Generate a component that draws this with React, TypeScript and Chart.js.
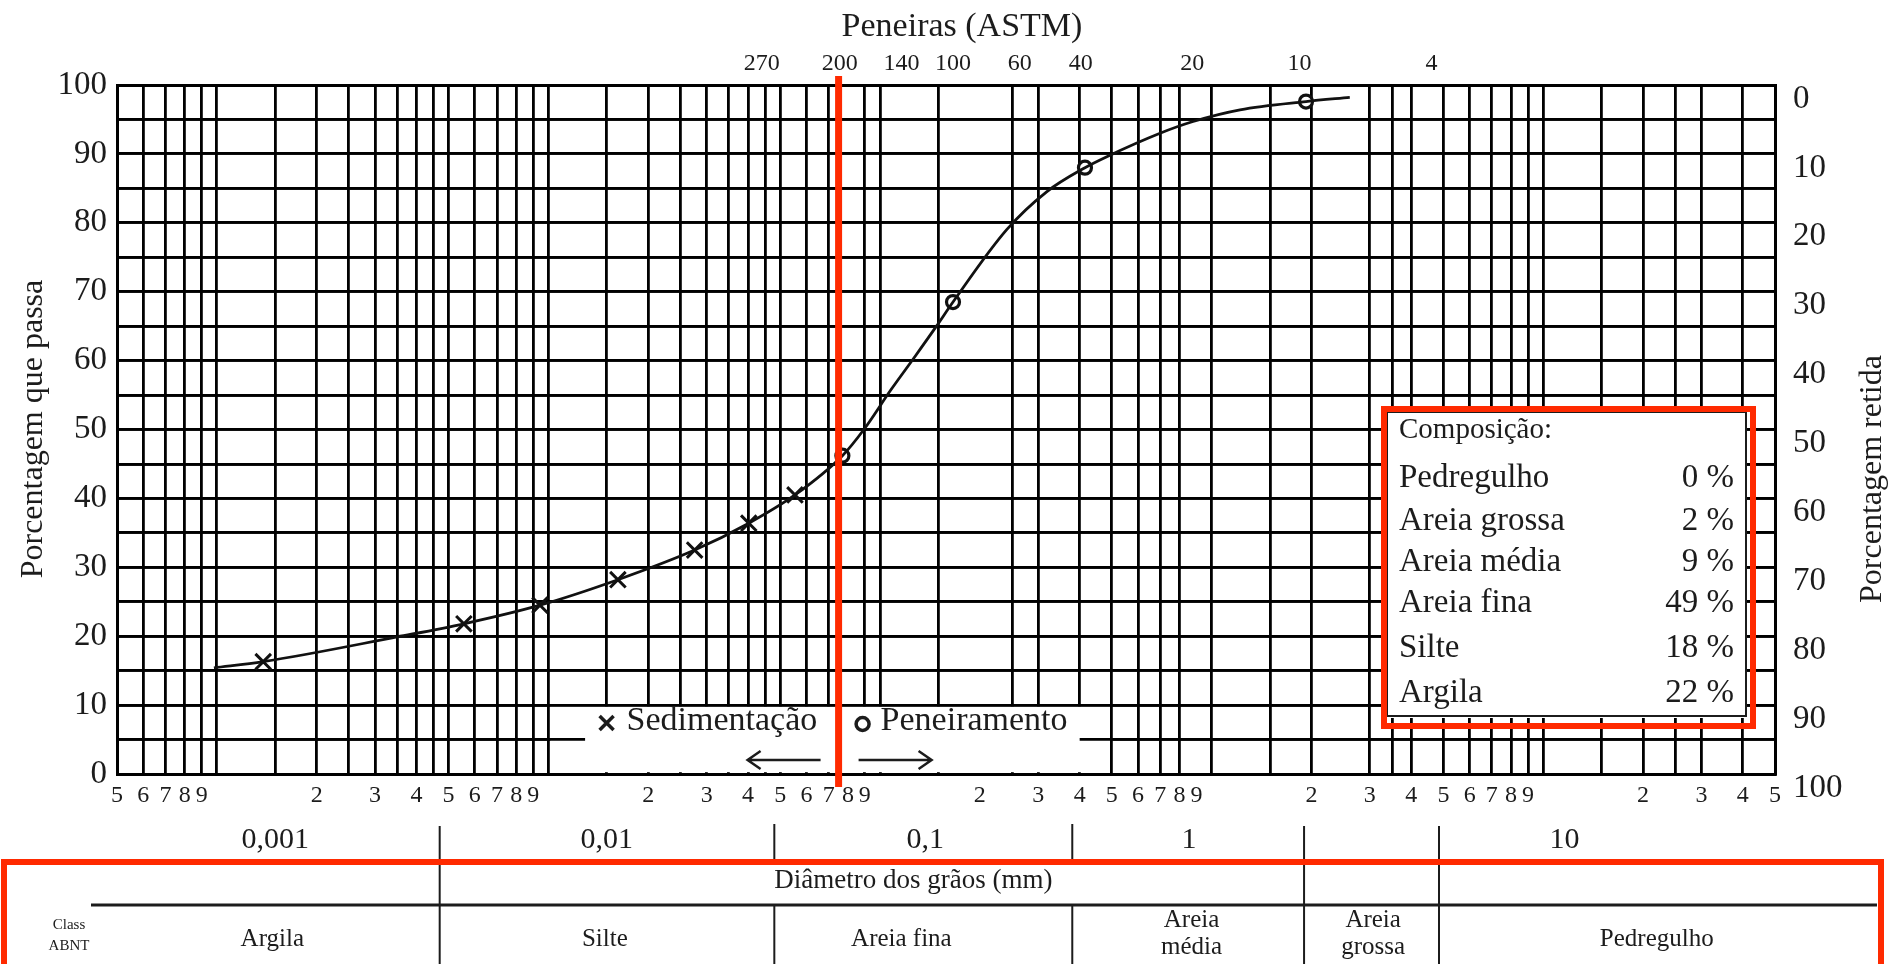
import React, { useEffect, useRef } from "react";
import { Chart, registerables } from "chart.js";

Chart.register(...registerables);

// ---------- data ----------
// grain size curve (mm, % passing)
const curveDiam = [0.00098, 0.00138, 0.0035, 0.00556, 0.00943, 0.0162, 0.0276, 0.0402, 0.0554, 0.077, 0.0894, 0.108, 0.1275, 0.148, 0.166, 0.241, 0.318, 0.415, 0.483, 0.699, 0.879, 1.218, 1.926, 2.61];
const curvePass = [15.4, 16.3, 19.9, 21.8, 24.5, 28.2, 32.5, 36.4, 40.5, 46.2, 50.0, 55.8, 60.6, 65.0, 68.5, 79.0, 84.5, 88.0, 89.6, 93.0, 94.7, 96.4, 97.6, 98.2];
// sedimentation points (x markers)
const sedDiam = [0.00138, 0.00556, 0.00943, 0.0162, 0.0276, 0.0402, 0.0554];
const sedPass = [16.3, 21.8, 24.5, 28.2, 32.5, 36.4, 40.5];
// sieving points (o markers)
const penDiam = [0.077, 0.166, 0.415, 1.926];
const penPass = [46.2, 68.5, 88.0, 97.6];

// bottom log axis ticks
const xTickValues = [
  0.0005, 0.0006, 0.0007, 0.0008, 0.0009,
  0.001, 0.0015, 0.002, 0.0025, 0.003, 0.0035, 0.004, 0.0045, 0.005, 0.006, 0.007, 0.008, 0.009,
  0.01, 0.015, 0.02, 0.025, 0.03, 0.035, 0.04, 0.045, 0.05, 0.06, 0.07, 0.08, 0.09,
  0.1, 0.15, 0.2, 0.25, 0.3, 0.35, 0.4, 0.45, 0.5, 0.6, 0.7, 0.8, 0.9,
  1, 1.5, 2, 2.5, 3, 3.5, 4, 4.5, 5, 6, 7, 8, 9,
  10, 15, 20, 25, 30, 35, 40, 45, 50,
];
const xTickLabels = [
  "5", "6", "7", "8", "9",
  "", "", "2", "", "3", "", "4", "", "5", "6", "7", "8", "9",
  "", "", "2", "", "3", "", "4", "", "5", "6", "7", "8", "9",
  "", "", "2", "", "3", "", "4", "", "5", "6", "7", "8", "9",
  "", "", "2", "", "3", "", "4", "", "5", "6", "7", "8", "9",
  "", "", "2", "", "3", "", "4", "", "5",
];
const xNoGrid = [0.08, 0.2, 0.35, 0.45, 0.9, 2.5, 4.5, 35, 45];

// top axis: ASTM sieves
const sieveNames = ["270", "200", "140", "100", "60", "40", "20", "10", "4"];
const sieveDiam = [0.044, 0.0756, 0.116, 0.166, 0.264, 0.403, 0.874, 1.84, 4.6];

// decade labels under the axis
const decadeNames = ["0,001", "0,01", "0,1", "1", "10"];
const decadePos = [0.0015, 0.015, 0.137, 0.855, 11.6];

// ABNT class boundaries and table
const boundDiam = [0.0047, 0.048, 0.38, 1.9, 4.85];
const boundInRow1 = [true, false, false, true, true];
const classNames = [["Argila"], ["Silte"], ["Areia fina"], ["Areia", "média"], ["Areia", "grossa"], ["Pedregulho"]];
const classPos = [0.00147, 0.0148, 0.116, 0.87, 3.07, 22];

// composition box
const compNames = ["Pedregulho", "Areia grossa", "Areia média", "Areia fina", "Silte", "Argila"];
const compValues = [0, 2, 9, 49, 18, 22];

const SERIF = "'Liberation Serif', 'Times New Roman', serif";
const INK = "#1c1c1c";
const GRID = "#000000";
const GRID_W = 2.8;
const RED = "#ff2a00";

const near = (a: number, b: number) => Math.abs(a - b) / b < 1e-6;
const hiddenGrid = new Set<number>(
  xTickValues.map((v, i) => (xNoGrid.some((n) => near(v, n)) ? i : -1)).filter((i) => i >= 0)
);
const align = (p: number) => Math.round(p - GRID_W / 2) + GRID_W / 2;

const overlay = {
  id: "overlay",
  beforeDatasetsDraw(chart: any) {
    const { ctx, chartArea } = chart;
    const xs = chart.scales.x;
    const ys = chart.scales.y;
    ctx.save();
    // horizontal grid lines at the y scale's own ticks
    ctx.strokeStyle = GRID;
    ctx.lineWidth = GRID_W;
    ctx.beginPath();
    ys.ticks.forEach((t: any) => {
      const py = align(ys.getPixelForValue(t.value));
      ctx.moveTo(chartArea.left, py);
      ctx.lineTo(chartArea.right, py);
    });
    ctx.stroke();
    // legend cut-out
    const x0 = xs.getPixelForValue(0.01);
    const x1 = xs.getPixelForValue(0.5);
    const yt = ys.getPixelForValue(10);
    const yb = ys.getPixelForValue(0);
    ctx.fillStyle = "#ffffff";
    ctx.fillRect(x0 + 1.8, yt + 1.8, x1 - x0 - 3.6, yb - yt - 3.6);
    const y5 = align(ys.getPixelForValue(5));
    ctx.beginPath();
    ctx.moveTo(x0, y5);
    ctx.lineTo(xs.getPixelForValue(0.0129), y5);
    ctx.moveTo(xs.getPixelForValue(0.4), y5);
    ctx.lineTo(x1, y5);
    ctx.stroke();
    ctx.restore();
  },
  afterDraw(chart: any) {
    const { ctx, chartArea } = chart;
    const xs = chart.scales.x;
    const X = (v: number) => xs.getPixelForValue(v);
    ctx.save();
    ctx.fillStyle = INK;
    ctx.strokeStyle = INK;
    ctx.textBaseline = "middle";
    ctx.textAlign = "center";

    // axis titles
    ctx.font = `34px ${SERIF}`;
    ctx.fillText("Peneiras (ASTM)", (chartArea.left + chartArea.right) / 2 + 16, 27);
    ctx.font = `32px ${SERIF}`;
    ctx.save();
    ctx.translate(34, 429);
    ctx.rotate(-Math.PI / 2);
    ctx.fillText("Porcentagem que passa", 0, 0);
    ctx.restore();
    ctx.save();
    ctx.translate(1873, 479);
    ctx.rotate(-Math.PI / 2);
    ctx.fillText("Porcentagem retida", 0, 0);
    ctx.restore();

    // legend inside the plot
    const xr = X(0.075);
    const ly = 723;
    ctx.lineWidth = 3.5;
    ctx.beginPath();
    ctx.moveTo(xr - 239, ly - 7);
    ctx.lineTo(xr - 225, ly + 7);
    ctx.moveTo(xr - 225, ly - 7);
    ctx.lineTo(xr - 239, ly + 7);
    ctx.stroke();
    ctx.beginPath();
    ctx.arc(xr + 24, ly + 1, 6.5, 0, Math.PI * 2);
    ctx.stroke();
    ctx.font = `34px ${SERIF}`;
    ctx.textAlign = "left";
    ctx.fillText("Sedimentação", xr - 212, ly - 2);
    ctx.fillText("Peneiramento", xr + 42, ly - 2);
    // arrows
    const ay = 760;
    ctx.lineWidth = 2.5;
    ctx.beginPath();
    ctx.moveTo(xr - 18, ay);
    ctx.lineTo(xr - 91, ay);
    ctx.moveTo(xr - 78, ay - 9);
    ctx.lineTo(xr - 91, ay);
    ctx.lineTo(xr - 78, ay + 9);
    ctx.moveTo(xr + 20, ay);
    ctx.lineTo(xr + 93, ay);
    ctx.moveTo(xr + 80, ay - 9);
    ctx.lineTo(xr + 93, ay);
    ctx.lineTo(xr + 80, ay + 9);
    ctx.stroke();

    // red line at sieve #200
    ctx.strokeStyle = RED;
    ctx.lineWidth = 7;
    ctx.beginPath();
    ctx.moveTo(xr, 76);
    ctx.lineTo(xr, 787);
    ctx.stroke();

    // composition box
    ctx.fillStyle = "#ffffff";
    ctx.fillRect(1387, 412, 360, 306);
    ctx.strokeStyle = INK;
    ctx.lineWidth = 2;
    ctx.strokeRect(1387, 412, 359, 304);
    ctx.strokeStyle = RED;
    ctx.lineWidth = 6;
    ctx.strokeRect(1384, 409, 369, 317);
    ctx.fillStyle = INK;
    ctx.textAlign = "left";
    ctx.font = `29px ${SERIF}`;
    ctx.fillText("Composição:", 1399, 430);
    ctx.font = `33px ${SERIF}`;
    const rowY = [478, 521, 562, 603, 648, 693];
    compNames.forEach((n, i) => {
      ctx.textAlign = "left";
      ctx.fillText(n, 1399, rowY[i]);
      ctx.textAlign = "right";
      ctx.fillText(`${compValues[i]} %`, 1734, rowY[i]);
    });

    // decade labels
    ctx.textAlign = "center";
    ctx.font = `30px ${SERIF}`;
    decadeNames.forEach((n, i) => ctx.fillText(n, X(decadePos[i]), 840));

    // boundaries
    ctx.strokeStyle = INK;
    ctx.lineWidth = 2;
    boundDiam.forEach((v, i) => {
      const px = X(v);
      ctx.beginPath();
      if (boundInRow1[i]) {
        ctx.moveTo(px, 826);
        ctx.lineTo(px, 964);
      } else {
        ctx.moveTo(px, 824);
        ctx.lineTo(px, 861);
        ctx.moveTo(px, 904);
        ctx.lineTo(px, 964);
      }
      ctx.stroke();
    });

    // table
    ctx.lineWidth = 3;
    ctx.beginPath();
    ctx.moveTo(91, 905);
    ctx.lineTo(1877, 905);
    ctx.stroke();
    ctx.font = `27px ${SERIF}`;
    ctx.fillText("Diâmetro dos grãos (mm)", X(0.126), 881);
    ctx.font = `15px ${SERIF}`;
    ctx.fillText("Class", 69, 925);
    ctx.fillText("ABNT", 69, 946);
    ctx.font = `25px ${SERIF}`;
    classNames.forEach((lines, i) => {
      const px = X(classPos[i]);
      if (lines.length === 1) ctx.fillText(lines[0], px, 939);
      else {
        ctx.fillText(lines[0], px, 920);
        ctx.fillText(lines[1], px, 947);
      }
    });
    ctx.strokeStyle = RED;
    ctx.lineWidth = 6;
    ctx.strokeRect(4, 862, 1877, 140);
    ctx.restore();
  },
};

export default function App() {
  const ref = useRef<HTMLCanvasElement | null>(null);
  useEffect(() => {
    if (!ref.current) return;
    const chart = new Chart(ref.current, {
      type: "scatter",
      data: {
        datasets: [
          {
            data: curveDiam.map((x, i) => ({ x, y: curvePass[i] })),
            showLine: true,
            cubicInterpolationMode: "monotone",
            borderColor: "#111",
            borderWidth: 2.8,
            pointRadius: 0,
            fill: false,
          },
          {
            data: sedDiam.map((x, i) => ({ x, y: sedPass[i] })),
            pointStyle: "crossRot",
            pointRadius: 11,
            borderColor: "#111",
            borderWidth: 3,
            showLine: false,
          },
          {
            data: penDiam.map((x, i) => ({ x, y: penPass[i] })),
            pointStyle: "circle",
            pointRadius: 6.5,
            backgroundColor: "#ffffff",
            borderColor: "#111",
            borderWidth: 3.2,
            showLine: false,
          },
        ],
      },
      options: {
        animation: false,
        responsive: false,
        devicePixelRatio: 1,
        layout: { padding: 0 },
        plugins: { legend: { display: false }, tooltip: { enabled: false } },
        scales: {
          x: {
            type: "logarithmic",
            position: "bottom",
            min: 0.0005,
            max: 50,
            afterBuildTicks: (s: any) => {
              s.ticks = xTickValues.map((v) => ({ value: v }));
            },
            afterFit: (s: any) => {
              s.height = 190;
            },
            ticks: {
              autoSkip: false,
              maxRotation: 0,
              minRotation: 0,
              padding: 7,
              color: INK,
              font: { family: SERIF, size: 24 },
              callback: (_v: any, i: number) => xTickLabels[i],
            },
            grid: {
              drawTicks: false,
              lineWidth: GRID_W,
              color: (c: any) => (hiddenGrid.has(c.index) ? "rgba(0,0,0,0)" : GRID),
            },
            border: { display: true, color: GRID, width: 3 },
          },
          x2: {
            type: "logarithmic",
            position: "top",
            min: 0.0005,
            max: 50,
            afterBuildTicks: (s: any) => {
              s.ticks = sieveDiam.map((v) => ({ value: v }));
            },
            afterFit: (s: any) => {
              s.height = 85;
            },
            ticks: {
              autoSkip: false,
              maxRotation: 0,
              minRotation: 0,
              padding: 7,
              color: INK,
              font: { family: SERIF, size: 24 },
              callback: (_v: any, i: number) => sieveNames[i],
            },
            grid: { display: false, drawTicks: false },
            border: { display: true, color: GRID, width: 3 },
          },
          y: {
            type: "linear",
            position: "left",
            min: 0,
            max: 100,
            afterFit: (s: any) => {
              s.width = 117;
            },
            ticks: {
              stepSize: 5,
              maxTicksLimit: 21,
              autoSkip: false,
              padding: 10,
              color: INK,
              font: { family: SERIF, size: 33 },
              callback: (v: any) => (Number(v) % 10 === 0 ? String(v) : ""),
            },
            grid: { display: true, drawOnChartArea: true, drawTicks: false, lineWidth: GRID_W, color: GRID },
            border: { display: true, color: GRID, width: 3 },
          },
          y2: {
            type: "linear",
            position: "right",
            min: 0,
            max: 100,
            reverse: true,
            afterFit: (s: any) => {
              s.width = 122;
            },
            ticks: {
              stepSize: 10,
              padding: 18,
              labelOffset: 14,
              color: INK,
              font: { family: SERIF, size: 33 },
              callback: (v: any) => String(v),
            },
            grid: { display: false, drawTicks: false },
            border: { display: true, color: GRID, width: 3 },
          },
        },
      } as any,
      plugins: [overlay],
    });
    return () => chart.destroy();
  }, []);

  return (
    <div style={{ position: "fixed", left: 0, top: 0, width: 1897, height: 964, background: "#fff" }}>
      <canvas ref={ref} width={1897} height={964} style={{ display: "block", width: 1897, height: 964 }} />
    </div>
  );
}
